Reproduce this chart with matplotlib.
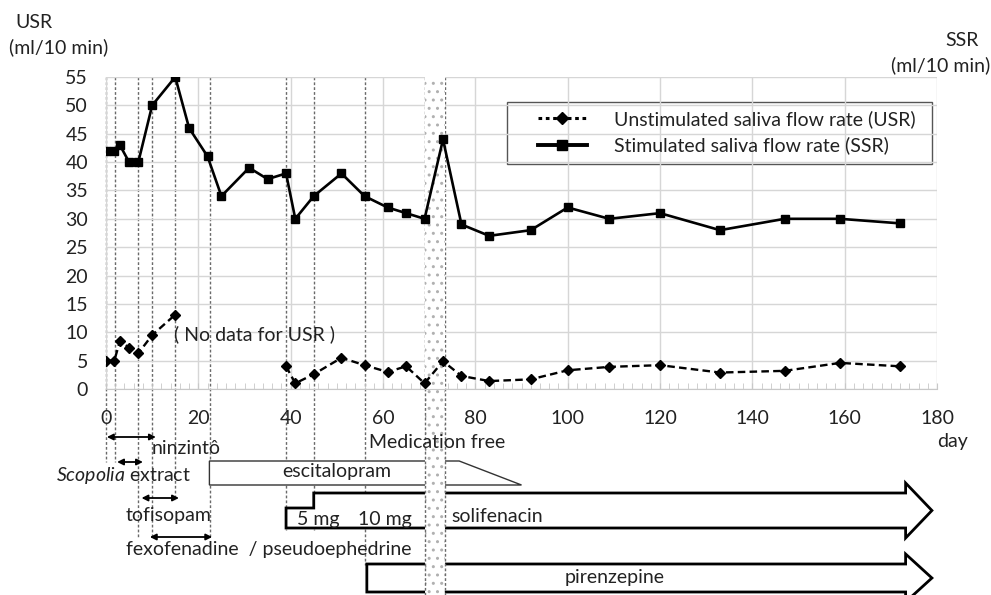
import matplotlib
matplotlib.use("Agg")
import matplotlib.pyplot as plt
from matplotlib.patches import Polygon, Rectangle
from matplotlib.lines import Line2D
from matplotlib.ticker import MultipleLocator

plt.rcParams['font.family'] = ['Lato', 'DejaVu Sans']
plt.rcParams['mathtext.fontset'] = 'custom'
plt.rcParams['mathtext.rm'] = 'Lato'
plt.rcParams['mathtext.it'] = 'Lato:italic'
plt.rcParams['hatch.linewidth'] = 1.0

# ---------------- data ----------------
ssr_days = [0, 1.8, 3, 5, 7, 10, 15, 18, 22, 25, 31, 35, 39, 41, 45, 51, 56, 61, 65, 69, 73,
            77, 83, 92, 100, 109, 120, 133, 147, 159, 172]
ssr_vals = [42, 42, 43, 40, 40, 50, 55, 46, 41, 34, 39, 37, 38, 30, 34, 38, 34, 32, 31, 30, 44,
            29, 27, 28, 32, 30, 31, 28, 30, 30, 29.2]
usr_days_early = [0, 1.8, 3, 5, 7, 10, 15]
usr_vals_early = [5.0, 5.0, 8.4, 7.3, 6.3, 9.5, 13.1]
usr_days_late = [39, 41, 45, 51, 56, 61, 65, 69, 73, 77, 83, 92, 100, 109, 120, 133, 147, 159, 172]
usr_vals_late = [4.0, 1.0, 2.6, 5.5, 4.2, 3.0, 4.0, 1.0, 4.9, 2.3, 1.4, 1.7, 3.3, 3.9, 4.2, 2.9,
                 3.2, 4.6, 4.0]
x_ticks = [0, 20, 40, 60, 80, 100, 120, 140, 160, 180]
y_ticks = [0, 5, 10, 15, 20, 25, 30, 35, 40, 45, 50, 55]
legend_labels = ["Unstimulated saliva flow rate (USR)", "Stimulated saliva flow rate (SSR)"]

event_days = [0, 2, 7, 10, 15, 22.5, 39, 45, 56]
med_free = [69, 73.5]
short_meds = ["ninzintô", "Scopolia extract", "tofisopam", "fexofenadine  / pseudoephedrine"]
short_start = [0.2, 2.4, 7.7, 9.5]
short_end = [10.8, 8.0, 15.8, 23.0]
esc_start, esc_full_end, esc_taper_end = 22.4, 76.5, 90
soli_start, soli_step = 39, 45
pir_start = 56.5
arrow_base, arrow_tip = 173.2, 178.9

# ---------------- layout ----------------
W, H = 991, 595
L, R, T, B = 106, 937, 77, 389
fig = plt.figure(figsize=(W / 100, H / 100), dpi=100)


def d(px):
    return (px - L) * 180.0 / (R - L)


ov = fig.add_axes([0, 0, 1, 1], zorder=0)
ov.set_xlim(d(0), d(W))
ov.set_ylim(H, 0)
ov.axis('off')

ax = fig.add_axes([L / W, 1 - B / H, (R - L) / W, (B - T) / H], zorder=1)
ax.patch.set_alpha(0)
ax.set_xlim(0, 180)
ax.set_ylim(0, 55)
ax.set_xticks(x_ticks)
ax.set_yticks(y_ticks)
ax.xaxis.set_minor_locator(MultipleLocator(2))
ax.grid(True, which='major', color='#d6d6d6', lw=1.0)
ax.set_axisbelow(True)
for s in ['top', 'right', 'left']:
    ax.spines[s].set_visible(False)
ax.spines['bottom'].set_color('#c8c8c8')
ax.tick_params(axis='x', which='both', direction='in', color='#c8c8c8', length=4,
               labelsize=14, pad=15, labelcolor='#222222')
ax.tick_params(axis='y', length=0, pad=13, labelsize=14, labelcolor='#222222')

# medication-free band in plot
ax.axvspan(med_free[0], med_free[1], facecolor='white', hatch='..', edgecolor='#b0b0b0',
           lw=0, zorder=1)

# data lines
ax.plot(ssr_days, ssr_vals, '-', color='black', lw=1.9, marker='s', ms=5.8, zorder=4)
ax.plot(usr_days_early, usr_vals_early, ls=(0, (3.2, 1.8)), color='black', lw=1.7,
        marker='D', ms=5.5, zorder=4)
ax.plot(usr_days_late, usr_vals_late, ls=(0, (3.2, 1.8)), color='black', lw=1.7,
        marker='D', ms=5.5, zorder=4)
ax.text(d(255), (B - 334) / (B - T) * 55, "( No data for USR )", ha='center', va='center',
        fontsize=14, color='#222222', zorder=5)

# legend
h1 = Line2D([], [], color='black', ls=(0, (1.2, 1.2)), lw=2.2, marker='D', ms=6.5)
h2 = Line2D([], [], color='black', ls='-', lw=2.8, marker='s', ms=6.5)
ax.legend([h1, h2], legend_labels, loc='upper left', bbox_to_anchor=(538 / W, 1 - 110 / H),
          bbox_transform=fig.transFigure, frameon=False, fontsize=14, borderpad=0,
          borderaxespad=0, handlelength=2.5, handletextpad=1.4, labelspacing=0.45,
          labelcolor='#222222')
ov.add_patch(Rectangle((d(507), 102), d(932) - d(507), 62, facecolor='white',
                       edgecolor='#555555', lw=1.0, zorder=1))

# vertical event lines
event_ends = [462, 462, 537, 538, 500, 537, 530, 530, 565]
for day, ye in zip(event_days, event_ends):
    ov.plot([day, day], [T, ye], ls=(0, (2, 1.5)), color='#6a6a6a', lw=1.0, zorder=2)

# band below axis
ov.add_patch(Rectangle((med_free[0], B), med_free[1] - med_free[0], H + 10 - B,
                       facecolor='white', hatch='..', edgecolor='#b0b0b0', lw=0, zorder=3))
for xb in med_free:
    ov.plot([xb, xb], [T, H + 5], ls=(0, (2, 1.5)), color='#6a6a6a', lw=1.0, zorder=4)

# short medication double arrows
arrow_rows = [437, 462, 498, 537]
for s0, s1, yy in zip(short_start, short_end, arrow_rows):
    ov.annotate('', xy=(s1, yy), xytext=(s0, yy),
                arrowprops=dict(arrowstyle='<|-|>', color='black', lw=1.3,
                                mutation_scale=9, shrinkA=0, shrinkB=0), zorder=2)

tc = '#222222'
ov.text(d(152), 449, short_meds[0], ha='left', va='center', fontsize=14, color=tc, zorder=5)
ov.text(d(123), 476, r"$\mathit{Scopolia}$ extract", ha='center', va='center', fontsize=14,
        color=tc, zorder=5)
ov.text(d(169), 516, short_meds[2], ha='center', va='center', fontsize=14, color=tc, zorder=5)
ov.text(d(126), 550, short_meds[3], ha='left', va='center', fontsize=14, color=tc, zorder=5)

# escitalopram
ov.add_patch(Polygon([(esc_start, 461), (esc_full_end, 461), (esc_taper_end, 485),
                      (esc_start, 485)], closed=True, facecolor='white', edgecolor='#333333',
                     lw=1.0, zorder=2))
ov.text(d(337), 471, "escitalopram", ha='center', va='center', fontsize=14, color=tc, zorder=5)

# solifenacin
ov.add_patch(Polygon([(soli_start, 508), (soli_step, 508), (soli_step, 493), (arrow_base, 493),
                      (arrow_base, 483), (arrow_tip, 510.5), (arrow_base, 538),
                      (arrow_base, 528), (soli_start, 528)], closed=True, facecolor='white',
                     edgecolor='black', lw=2.0, joinstyle='miter', zorder=2))
ov.text(d(318), 519, "5 mg", ha='center', va='center', fontsize=14, color=tc, zorder=5)
ov.text(d(385), 519, "10 mg", ha='center', va='center', fontsize=14, color=tc, zorder=5)
ov.text(d(497), 517, "solifenacin", ha='center', va='center', fontsize=14, color=tc, zorder=5)

# pirenzepine
ov.add_patch(Polygon([(pir_start, 564), (arrow_base, 564), (arrow_base, 554),
                      (arrow_tip, 578), (arrow_base, 602), (arrow_base, 592),
                      (pir_start, 592)], closed=True, facecolor='white', edgecolor='black',
                     lw=2.0, joinstyle='miter', zorder=2))
ov.text(d(615), 578, "pirenzepine", ha='center', va='center', fontsize=14, color=tc, zorder=5)

# axis titles
ov.text(d(437), 442, "Medication free", ha='center', va='center', fontsize=14, color=tc,
        zorder=6)
ov.text(d(953), 441, "day", ha='center', va='center', fontsize=14, color=tc, zorder=5)
ov.text(d(15), 23, "USR", ha='left', va='center', fontsize=14, color=tc)
ov.text(d(9), 47, "(ml/10 min)", ha='left', va='center', fontsize=14, color=tc)
ov.text(d(979), 40, "SSR", ha='right', va='center', fontsize=14, color=tc)
ov.text(d(990), 65, "(ml/10 min)", ha='right', va='center', fontsize=14, color=tc)

fig.savefig("out.png", dpi=100)
